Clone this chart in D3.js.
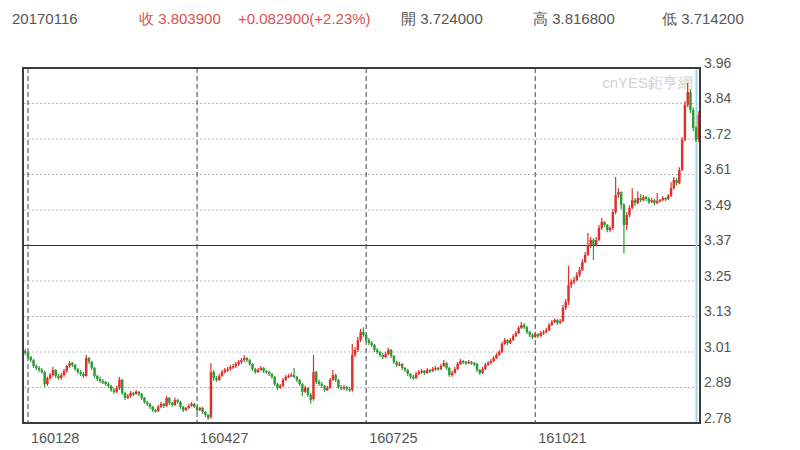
<!DOCTYPE html>
<html><head><meta charset="utf-8">
<script src="https://cdn.jsdelivr.net/npm/d3@7"></script>
<style>body{margin:0;background:#fff} svg{display:block} text{font-family:"Liberation Sans",Arial,sans-serif}</style>
</head><body><svg id="c" width="800" height="450"></svg>
<script>
const open=[
3.016,3.010,2.996,2.986,2.966,2.960,2.953,2.946,2.906,2.926,
2.936,2.953,2.933,2.926,2.936,2.950,2.966,2.976,2.970,2.956,
2.946,2.940,2.933,2.993,2.980,2.960,2.933,2.923,2.916,2.913,
2.906,2.900,2.886,2.880,2.893,2.920,2.876,2.860,2.866,2.876,
2.873,2.880,2.873,2.860,2.846,2.840,2.830,2.819,2.816,2.830,
2.840,2.833,2.860,2.843,2.836,2.853,2.846,2.830,2.819,2.826,
2.833,2.840,2.830,2.819,2.826,2.813,2.803,2.796,2.946,2.926,
2.920,2.933,2.946,2.953,2.956,2.963,2.966,2.973,2.980,2.986,
2.993,2.986,2.973,2.956,2.946,2.953,2.960,2.950,2.946,2.940,
2.930,2.906,2.893,2.900,2.920,2.930,2.933,2.936,2.930,2.920,
2.906,2.880,2.893,2.870,2.856,2.946,2.913,2.906,2.900,2.886,
2.893,2.920,2.936,2.920,2.896,2.893,2.896,2.890,2.886,3.003,
3.020,3.053,3.080,3.070,3.053,3.043,3.036,3.020,3.013,3.003,
2.996,3.006,3.020,3.000,2.980,2.970,2.973,2.960,2.953,2.940,
2.930,2.926,2.940,2.946,2.950,2.943,2.953,2.950,2.956,2.960,
2.956,2.966,2.976,2.960,2.936,2.943,2.956,2.973,2.983,2.980,
2.976,2.980,2.976,2.973,2.953,2.943,2.956,2.970,2.976,2.983,
2.993,3.003,3.013,3.040,3.053,3.043,3.053,3.066,3.076,3.093,
3.103,3.096,3.080,3.070,3.063,3.073,3.066,3.076,3.080,3.086,
3.103,3.113,3.120,3.110,3.116,3.160,3.180,3.237,3.247,3.253,
3.270,3.287,3.313,3.337,3.370,3.387,3.370,3.387,3.427,3.447,
3.437,3.420,3.427,3.480,3.537,3.547,3.504,3.437,3.470,3.494,
3.520,3.510,3.527,3.520,3.530,3.524,3.514,3.520,3.510,3.517,
3.520,3.527,3.524,3.534,3.560,3.587,3.577,3.621,3.721,3.838,
3.881,3.821,3.761,3.724];
const close=[
3.010,2.996,2.986,2.966,2.960,2.953,2.946,2.906,2.926,2.936,
2.953,2.933,2.926,2.936,2.950,2.966,2.976,2.970,2.956,2.946,
2.940,2.933,2.993,2.980,2.960,2.933,2.923,2.916,2.913,2.906,
2.900,2.886,2.880,2.893,2.920,2.876,2.860,2.866,2.876,2.873,
2.880,2.873,2.860,2.846,2.840,2.830,2.819,2.816,2.830,2.840,
2.833,2.860,2.843,2.836,2.853,2.846,2.830,2.819,2.826,2.833,
2.840,2.830,2.819,2.826,2.813,2.803,2.793,2.946,2.926,2.920,
2.933,2.946,2.953,2.956,2.963,2.966,2.973,2.980,2.986,2.993,
2.986,2.973,2.956,2.946,2.953,2.960,2.950,2.946,2.940,2.930,
2.906,2.893,2.900,2.920,2.930,2.933,2.936,2.930,2.920,2.906,
2.880,2.893,2.870,2.853,2.946,2.913,2.906,2.900,2.886,2.893,
2.920,2.936,2.920,2.896,2.893,2.896,2.890,2.886,3.003,3.020,
3.053,3.080,3.070,3.053,3.043,3.036,3.020,3.013,3.003,2.996,
3.006,3.020,3.000,2.980,2.970,2.973,2.960,2.953,2.940,2.930,
2.926,2.940,2.946,2.950,2.943,2.953,2.950,2.956,2.960,2.956,
2.966,2.976,2.960,2.936,2.943,2.956,2.973,2.983,2.980,2.976,
2.980,2.976,2.973,2.953,2.943,2.956,2.970,2.976,2.983,2.993,
3.003,3.013,3.040,3.053,3.043,3.053,3.066,3.076,3.093,3.103,
3.096,3.080,3.070,3.063,3.073,3.066,3.076,3.080,3.086,3.103,
3.113,3.120,3.110,3.116,3.160,3.180,3.237,3.247,3.253,3.270,
3.287,3.313,3.337,3.370,3.387,3.370,3.387,3.427,3.447,3.437,
3.420,3.427,3.480,3.537,3.547,3.504,3.437,3.470,3.494,3.520,
3.510,3.527,3.520,3.530,3.524,3.514,3.520,3.510,3.517,3.520,
3.527,3.524,3.534,3.560,3.587,3.577,3.621,3.721,3.838,3.881,
3.821,3.761,3.721,3.8039];
const high=[
3.022,3.013,3.000,2.990,2.972,2.966,2.960,2.950,2.930,2.943,
2.963,2.956,2.940,2.943,2.956,2.970,2.983,2.980,2.973,2.960,
2.953,2.946,3.003,2.996,2.983,2.963,2.936,2.930,2.923,2.916,
2.913,2.903,2.893,2.900,2.930,2.923,2.880,2.873,2.883,2.880,
2.886,2.883,2.876,2.863,2.850,2.843,2.833,2.823,2.836,2.846,
2.843,2.866,2.863,2.846,2.860,2.856,2.850,2.833,2.830,2.840,
2.846,2.843,2.833,2.830,2.830,2.816,2.806,2.976,2.953,2.933,
2.940,2.953,2.960,2.963,2.970,2.973,2.980,2.986,2.993,3.003,
2.996,2.990,2.976,2.960,2.960,2.966,2.963,2.953,2.950,2.943,
2.933,2.910,2.906,2.926,2.936,2.940,2.943,2.960,2.933,2.923,
2.910,2.900,2.896,2.876,3.003,2.950,2.920,2.913,2.903,2.900,
2.926,2.953,2.940,2.923,2.903,2.903,2.900,2.896,3.040,3.030,
3.063,3.090,3.096,3.076,3.060,3.050,3.040,3.026,3.016,3.010,
3.013,3.026,3.023,3.003,2.983,2.980,2.976,2.963,2.956,2.943,
2.936,2.946,2.953,2.956,2.953,2.960,2.956,2.963,2.966,2.963,
2.973,2.986,2.980,2.963,2.950,2.963,2.980,2.990,2.986,2.983,
2.986,2.983,2.980,2.976,2.956,2.963,2.976,2.983,2.990,3.000,
3.010,3.020,3.046,3.060,3.056,3.060,3.073,3.083,3.100,3.113,
3.110,3.100,3.083,3.076,3.080,3.076,3.083,3.086,3.093,3.110,
3.120,3.126,3.123,3.123,3.170,3.190,3.300,3.256,3.263,3.280,
3.297,3.323,3.347,3.410,3.397,3.393,3.397,3.437,3.460,3.450,
3.440,3.433,3.490,3.597,3.560,3.550,3.510,3.480,3.503,3.560,
3.527,3.550,3.540,3.537,3.534,3.530,3.527,3.524,3.544,3.524,
3.534,3.530,3.540,3.580,3.597,3.594,3.630,3.730,3.850,3.911,
3.890,3.830,3.767,3.8168];
const low=[
3.003,2.990,2.980,2.960,2.953,2.946,2.940,2.896,2.900,2.920,
2.930,2.926,2.920,2.920,2.930,2.943,2.960,2.963,2.950,2.940,
2.933,2.926,2.930,2.973,2.953,2.926,2.916,2.910,2.906,2.900,
2.893,2.880,2.873,2.876,2.886,2.870,2.853,2.856,2.860,2.866,
2.870,2.866,2.853,2.840,2.833,2.823,2.813,2.810,2.813,2.826,
2.826,2.830,2.836,2.830,2.833,2.840,2.823,2.813,2.816,2.823,
2.830,2.826,2.813,2.816,2.806,2.796,2.786,2.790,2.916,2.913,
2.916,2.930,2.940,2.946,2.950,2.956,2.960,2.966,2.973,2.980,
2.980,2.966,2.950,2.940,2.943,2.950,2.943,2.940,2.933,2.923,
2.900,2.886,2.890,2.896,2.916,2.926,2.930,2.926,2.913,2.900,
2.866,2.876,2.863,2.840,2.850,2.906,2.900,2.893,2.880,2.883,
2.890,2.916,2.913,2.890,2.886,2.886,2.883,2.880,2.880,2.996,
3.013,3.046,3.063,3.046,3.036,3.030,3.013,3.006,2.996,2.990,
2.993,3.003,2.993,2.973,2.963,2.966,2.953,2.946,2.933,2.923,
2.920,2.923,2.936,2.940,2.936,2.940,2.943,2.946,2.950,2.950,
2.953,2.963,2.953,2.930,2.930,2.940,2.953,2.970,2.973,2.970,
2.973,2.970,2.966,2.946,2.936,2.940,2.953,2.966,2.973,2.980,
2.990,3.000,3.010,3.036,3.036,3.040,3.050,3.063,3.073,3.090,
3.090,3.073,3.063,3.056,3.060,3.060,3.063,3.070,3.076,3.083,
3.100,3.110,3.103,3.106,3.113,3.153,3.170,3.226,3.240,3.250,
3.263,3.283,3.310,3.333,3.360,3.320,3.366,3.383,3.420,3.430,
3.413,3.413,3.420,3.473,3.527,3.490,3.343,3.420,3.463,3.490,
3.500,3.506,3.513,3.516,3.517,3.507,3.510,3.503,3.507,3.513,
3.517,3.517,3.520,3.530,3.555,3.570,3.573,3.617,3.715,3.830,
3.810,3.750,3.714,3.7142];

const xTickLabels=["160128","160427","160725","161021"];
const xTickIndex=[1,62,123,184];
const yTickValues=[2.776,2.8945,3.013,3.1315,3.25,3.3685,3.487,3.6055,3.724,3.8425,3.961];
const headerTexts=["20170116","收 3.803900","+0.082900(+2.23%)","開 3.724000","高 3.816800","低 3.714200"];
const headerX=[12,139,238,401,533,662];
const headerColors=["#555","#d9534f","#d9534f","#555","#555","#555"];

const svg=d3.select("#c");
const L=24,R=700,T=68,B=423;
const idx=d3.range(close.length);
const x=d3.scaleBand().domain(idx).range([L,R]).paddingInner(0.12);
const y=d3.scaleLinear().domain([yTickValues[0],yTickValues[yTickValues.length-1]]).range([B,T]);
const cx=i=>x(i)+x.bandwidth()/2;

// horizontal gridlines
svg.append("g").selectAll("line").data(yTickValues.slice(1,-1)).join("line")
  .attr("x1",L).attr("x2",R).attr("y1",d=>y(d)).attr("y2",d=>y(d))
  .attr("stroke",(d,i)=>i===4?"#333":"#bbb")
  .attr("stroke-width",1)
  .attr("stroke-dasharray",(d,i)=>i===4?null:"2,2");

// vertical dashed gridlines
svg.append("g").selectAll("line").data(xTickIndex).join("line")
  .attr("x1",d=>cx(d)).attr("x2",d=>cx(d)).attr("y1",T).attr("y2",B)
  .attr("stroke","#444").attr("stroke-width",1).attr("stroke-dasharray","5,3");

// watermark
svg.append("text").attr("x",693).attr("y",88).attr("text-anchor","end")
  .attr("fill","#d2d2d2").attr("font-size",15).text("cnYES鉅亨網");

// cursor line
svg.append("line").attr("x1",696.5).attr("x2",696.5).attr("y1",T).attr("y2",B)
  .attr("stroke","#9fd6e8").attr("stroke-width",2);

// candles
const up="#e0302a", dn="#2f9a35";
const g=svg.append("g");
g.selectAll("line").data(idx).join("line")
  .attr("x1",i=>cx(i)).attr("x2",i=>cx(i))
  .attr("y1",i=>y(high[i])).attr("y2",i=>y(low[i]))
  .attr("stroke",i=>close[i]>=open[i]?up:dn).attr("stroke-width",1.2);
g.selectAll("rect").data(idx).join("rect")
  .attr("x",i=>x(i)).attr("width",x.bandwidth())
  .attr("y",i=>y(Math.max(open[i],close[i])))
  .attr("height",i=>Math.max(1.5,Math.abs(y(open[i])-y(close[i]))))
  .attr("fill",i=>close[i]>=open[i]?up:dn);

// frame
svg.append("rect").attr("x",L-1).attr("y",T).attr("width",R-L+1).attr("height",B-T)
  .attr("fill","none").attr("stroke","#3a3a3a").attr("stroke-width",2);

// right axis
const ya=d3.axisRight(y).tickValues(yTickValues).tickFormat(d3.format(".2f")).tickSize(0).tickPadding(4);
const yg=svg.append("g").attr("transform",`translate(${R},0)`).call(ya);
yg.select(".domain").remove();
yg.selectAll("text").attr("fill","#555").attr("font-size",14).attr("dy","-0.05em")
  .attr("font-family","'Liberation Sans',Arial,sans-serif");

// bottom labels
svg.append("g").selectAll("text").data(xTickIndex).join("text")
  .attr("x",d=>cx(d)+3).attr("y",443).attr("fill","#555").attr("font-size",14.5)
  .text((d,i)=>xTickLabels[i]);

// header
svg.append("g").selectAll("text").data(headerTexts).join("text")
  .attr("x",(d,i)=>headerX[i]).attr("y",24).attr("fill",(d,i)=>headerColors[i])
  .attr("font-size",15).text(d=>d);
</script></body></html>
